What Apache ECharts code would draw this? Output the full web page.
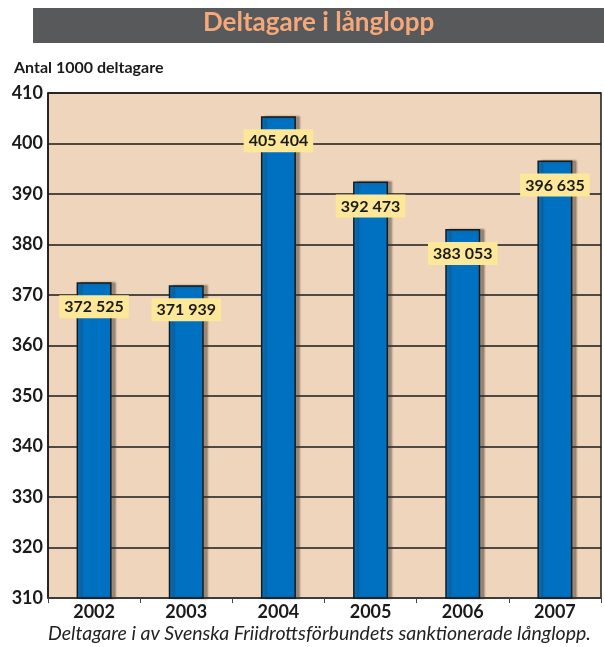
<!DOCTYPE html>
<html>
<head>
<meta charset="utf-8">
<script src="https://cdn.jsdelivr.net/npm/echarts@6/dist/echarts.min.js"></script>
<style>
html,body{margin:0;padding:0;background:#fff;}
#c{width:604px;height:647px;}
</style>
</head>
<body>
<div id="c"></div>
<script>
var years = ['2002', '2003', '2004', '2005', '2006', '2007'];
var participants = [372.525, 371.939, 405.404, 392.473, 383.053, 396.635];
var valueLabels = ['372 525', '371 939', '405 404', '392 473', '383 053', '396 635'];
var yTicks = [310, 320, 330, 340, 350, 360, 370, 380, 390, 400, 410];

var chart = echarts.init(document.getElementById('c'), null, {renderer: 'canvas'});
var font = 'Lato, "DejaVu Sans", sans-serif';
chart.setOption({
  animation: false,
  backgroundColor: '#ffffff',
  graphic: [
    {type: 'rect', left: 33, top: 8, shape: {width: 571, height: 35}, style: {fill: '#58595b'}, z: 0},
    {type: 'text', left: 203, top: 10, style: {text: 'Deltagare i långlopp', fill: '#f5a87a', font: 'bold 26px ' + font}, z: 1},
    {type: 'text', left: 14, top: 60, style: {text: 'Antal 1000 deltagare', fill: '#1a1a1a', font: 'bold 16px ' + font}},
    {type: 'text', left: 48, top: 624, style: {text: 'Deltagare i av Svenska Friidrottsförbundets sanktionerade långlopp.', fill: '#222', font: 'italic 19.5px ' + font}}
  ],
  grid: {left: 48, right: 3, top: 93, bottom: 49, show: true, backgroundColor: '#efd5bc', borderColor: '#1a1a1a', borderWidth: 1.5},
  xAxis: {
    type: 'category',
    data: years,
    axisLine: {show: true, lineStyle: {color: '#444', width: 1.5}},
    axisTick: {show: true, alignWithLabel: false, length: 5, lineStyle: {color: '#444'}},
    axisLabel: {color: '#1a1a1a', fontWeight: 'bold', fontSize: 18, fontFamily: font, margin: 5}
  },
  yAxis: {
    type: 'value',
    min: 310, max: 410, interval: 10,
    axisLine: {show: true, lineStyle: {color: '#1a1a1a', width: 1.5}},
    axisTick: {show: false},
    axisLabel: {color: '#1a1a1a', fontWeight: 'bold', fontSize: 18, fontFamily: font, margin: 5,
      formatter: function (v) { return yTicks.indexOf(v) >= 0 ? String(v) : ''; }},
    splitLine: {show: true, lineStyle: {color: '#1a1a1a', width: 1.5}}
  },
  series: [{
    type: 'bar',
    data: participants,
    barWidth: 35,
    itemStyle: {color: '#0070c0', borderColor: '#1a1a1a', borderWidth: 1.5,
      shadowColor: 'rgba(60,50,40,0.45)', shadowOffsetX: 4, shadowOffsetY: 0, shadowBlur: 2},
    label: {
      show: true, position: 'insideTop', distance: 13,
      formatter: function (p) { return valueLabels[p.dataIndex]; },
      backgroundColor: '#fde89a', padding: [4, 5, 3, 5],
      color: '#1a1a1a', fontWeight: 'bold', fontSize: 16, fontFamily: font
    }
  }]
});
</script>
</body>
</html>
